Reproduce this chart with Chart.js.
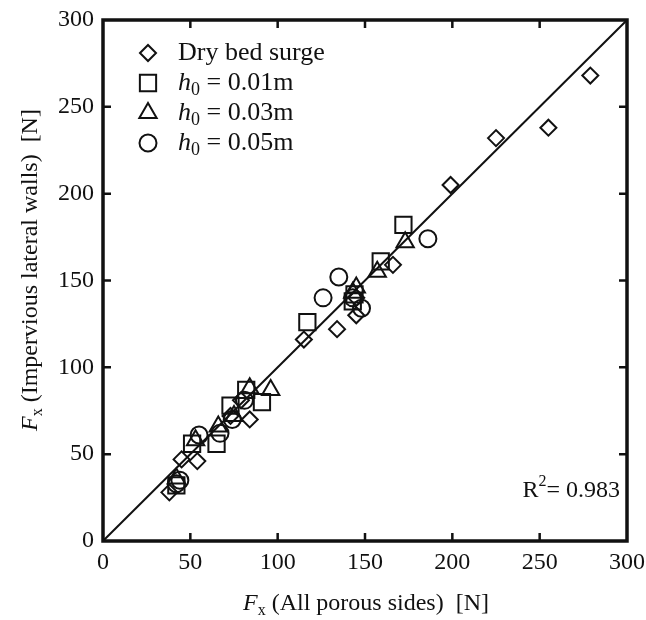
<!DOCTYPE html>
<html>
<head>
<meta charset="utf-8">
<script src="https://cdn.jsdelivr.net/npm/chart.js@4/dist/chart.umd.min.js"></script>
<style>
  html, body { margin: 0; padding: 0; background: #fff; }
  #wrap { width: 646px; height: 620px; position: relative; }
</style>
</head>
<body>
<div id="wrap"><canvas id="chart"></canvas></div>
<script>
// Horizontal force, all porous sides vs impervious lateral walls [N]
const axisTicks = [0, 50, 100, 150, 200, 250, 300];

// Dry bed surge
const dryX = [38, 45, 54, 73, 79, 84, 115, 134, 145, 145, 166, 199, 225, 255, 279];
const dryY = [28, 47, 46, 72, 81, 70, 116, 122, 130, 140, 159, 205, 232, 238, 268];

// h0 = 0.01 m
const h01X = [42, 51, 65, 73, 82, 91, 117, 143, 144, 159, 172];
const h01Y = [32, 56, 56, 78, 87, 80, 126, 138, 142, 161, 182];

// h0 = 0.03 m
const h03X = [42, 53, 66, 75, 84, 96, 143, 145, 157, 173];
const h03Y = [36, 58, 66, 72, 88, 87, 143, 146, 155, 172];

// h0 = 0.05 m
const h05X = [42, 44, 55, 67, 74, 81, 126, 135, 143, 148, 186];
const h05Y = [33, 35, 61, 62, 70, 81, 140, 152, 140, 134, 174];

// 1:1 line
const lineX = [0, 300];
const lineY = [0, 300];

const rSquared = '0.983';

const SERIF = '"Liberation Serif", "Times New Roman", serif';
const INK = '#111';

function pts(xs, ys) {
  return xs.map(function(x, i) { return { x: x, y: ys[i] }; });
}

function markerSet(label, xs, ys, style, radius) {
  return {
    type: 'scatter',
    label: label,
    data: pts(xs, ys),
    pointStyle: style,
    pointRadius: radius,
    pointHoverRadius: radius,
    pointBorderWidth: 2,
    pointBorderColor: INK,
    pointBackgroundColor: 'rgba(0,0,0,0)'
  };
}

// draw a run of text pieces (italic / subscript / superscript) starting at x
function drawRich(ctx, parts, x, y, size) {
  let cx = x;
  parts.forEach(function(p) {
    const s = (p.sub || p.sup) ? Math.round(size * 0.68) : size;
    ctx.font = (p.italic ? 'italic ' : '') + s + 'px ' + SERIF;
    let dy = 0;
    if (p.sub) dy = size * 0.28;
    if (p.sup) dy = -size * 0.38;
    ctx.fillText(p.text, cx, y + dy);
    cx += ctx.measureText(p.text).width;
  });
  return cx - x;
}

function richWidth(ctx, parts, size) {
  let w = 0;
  parts.forEach(function(p) {
    const s = (p.sub || p.sup) ? Math.round(size * 0.68) : size;
    ctx.font = (p.italic ? 'italic ' : '') + s + 'px ' + SERIF;
    w += ctx.measureText(p.text).width;
  });
  return w;
}

function drawMarker(ctx, style, x, y, r) {
  ctx.beginPath();
  if (style === 'rectRot') {
    ctx.moveTo(x - r, y); ctx.lineTo(x, y - r); ctx.lineTo(x + r, y); ctx.lineTo(x, y + r);
    ctx.closePath();
  } else if (style === 'rect') {
    const s = r * Math.SQRT1_2;
    ctx.rect(x - s, y - s, 2 * s, 2 * s);
  } else if (style === 'triangle') {
    ctx.moveTo(x, y - r);
    ctx.lineTo(x + r * Math.sin(2 * Math.PI / 3), y - r * Math.cos(2 * Math.PI / 3));
    ctx.lineTo(x + r * Math.sin(4 * Math.PI / 3), y - r * Math.cos(4 * Math.PI / 3));
    ctx.closePath();
  } else {
    ctx.arc(x, y, r, 0, Math.PI * 2);
  }
  ctx.stroke();
}

// frame, inward ticks, legend, axis titles and R² note
const decorations = {
  id: 'decorations',
  afterDraw(chart) {
    const ctx = chart.ctx;
    const a = chart.chartArea;
    const xs = chart.scales.x, ys = chart.scales.y;
    ctx.save();

    ctx.strokeStyle = INK;
    ctx.lineWidth = 2.5;
    axisTicks.forEach(function(v) {
      if (v === 0 || v === 300) return;
      const px = xs.getPixelForValue(v);
      const py = ys.getPixelForValue(v);
      ctx.beginPath();
      ctx.moveTo(px, a.bottom); ctx.lineTo(px, a.bottom - 8);
      ctx.moveTo(px, a.top); ctx.lineTo(px, a.top + 8);
      ctx.moveTo(a.left, py); ctx.lineTo(a.left + 8, py);
      ctx.moveTo(a.right, py); ctx.lineTo(a.right - 8, py);
      ctx.stroke();
    });
    ctx.lineWidth = 3.5;
    ctx.strokeRect(a.left, a.top, a.right - a.left, a.bottom - a.top);

    // legend
    ctx.fillStyle = INK;
    ctx.textBaseline = 'middle';
    ctx.textAlign = 'left';
    ctx.lineWidth = 2;
    const legend = [
      { style: 'rectRot', r: 8, parts: [{ text: 'Dry bed surge' }] },
      { style: 'rect', r: 11.5, parts: [{ text: 'h', italic: true }, { text: '0', sub: true }, { text: ' = 0.01m' }] },
      { style: 'triangle', r: 10, parts: [{ text: 'h', italic: true }, { text: '0', sub: true }, { text: ' = 0.03m' }] },
      { style: 'circle', r: 8.5, parts: [{ text: 'h', italic: true }, { text: '0', sub: true }, { text: ' = 0.05m' }] }
    ];
    legend.forEach(function(item, i) {
      const y = 53 + i * 30;
      drawMarker(ctx, item.style, 148, y, item.r);
      drawRich(ctx, item.parts, 178, y, 26);
    });

    // R² note, right edge just inside the frame
    const rt = [{ text: 'R' }, { text: '2', sup: true }, { text: '= ' + rSquared }];
    drawRich(ctx, rt, 620 - richWidth(ctx, rt, 24), 491, 24);

    // x axis title
    const xt = [{ text: 'F', italic: true }, { text: 'x', sub: true }, { text: ' (All porous sides)  [N]' }];
    const xw = richWidth(ctx, xt, 24);
    drawRich(ctx, xt, 366 - xw / 2, 604, 24);

    // y axis title
    const yt = [{ text: 'F', italic: true }, { text: 'x', sub: true }, { text: ' (Impervious lateral walls)  [N]' }];
    const yw = richWidth(ctx, yt, 24);
    ctx.translate(31, 270);
    ctx.rotate(-Math.PI / 2);
    drawRich(ctx, yt, -yw / 2, 0, 24);

    ctx.restore();
  }
};

const axisOpts = function(pos) {
  return {
    type: 'linear',
    position: pos,
    min: 0,
    max: 300,
    afterBuildTicks(scale) {
      scale.ticks = axisTicks.map(function(v) { return { value: v }; });
    },
    grid: { display: false, drawTicks: false },
    border: { display: false },
    ticks: {
      color: INK,
      padding: pos === 'bottom' ? 7 : 9,
      font: { family: SERIF, size: 24 },
      maxRotation: 0,
      autoSkip: false
    }
  };
};

// fixed plot box: the end labels may hang over the page margin
const xScale = axisOpts('bottom');
xScale.afterFit = function(scale) {
  scale.height = 79;
  scale.paddingLeft = 0;
  scale.paddingRight = 0;
};
const yScale = axisOpts('left');
yScale.afterFit = function(scale) {
  scale.width = 103;
  scale.paddingTop = 0;
  scale.paddingBottom = 0;
};

new Chart(document.getElementById('chart'), {
  data: {
    datasets: [
      {
        type: 'line',
        label: '1:1',
        data: pts(lineX, lineY),
        borderColor: INK,
        borderWidth: 2,
        pointRadius: 0,
        fill: false
      },
      markerSet('Dry bed surge', dryX, dryY, 'rectRot', 8),
      markerSet('h0 = 0.01m', h01X, h01Y, 'rect', 11.5),
      markerSet('h0 = 0.03m', h03X, h03Y, 'triangle', 10),
      markerSet('h0 = 0.05m', h05X, h05Y, 'circle', 8.5)
    ]
  },
  options: {
    responsive: true,
    maintainAspectRatio: false,
    animation: false,
    layout: { padding: { top: 20, right: 19, left: 0, bottom: 0 } },
    plugins: {
      legend: { display: false },
      tooltip: { enabled: false }
    },
    scales: { x: xScale, y: yScale }
  },
  plugins: [decorations]
});
</script>
</body>
</html>
